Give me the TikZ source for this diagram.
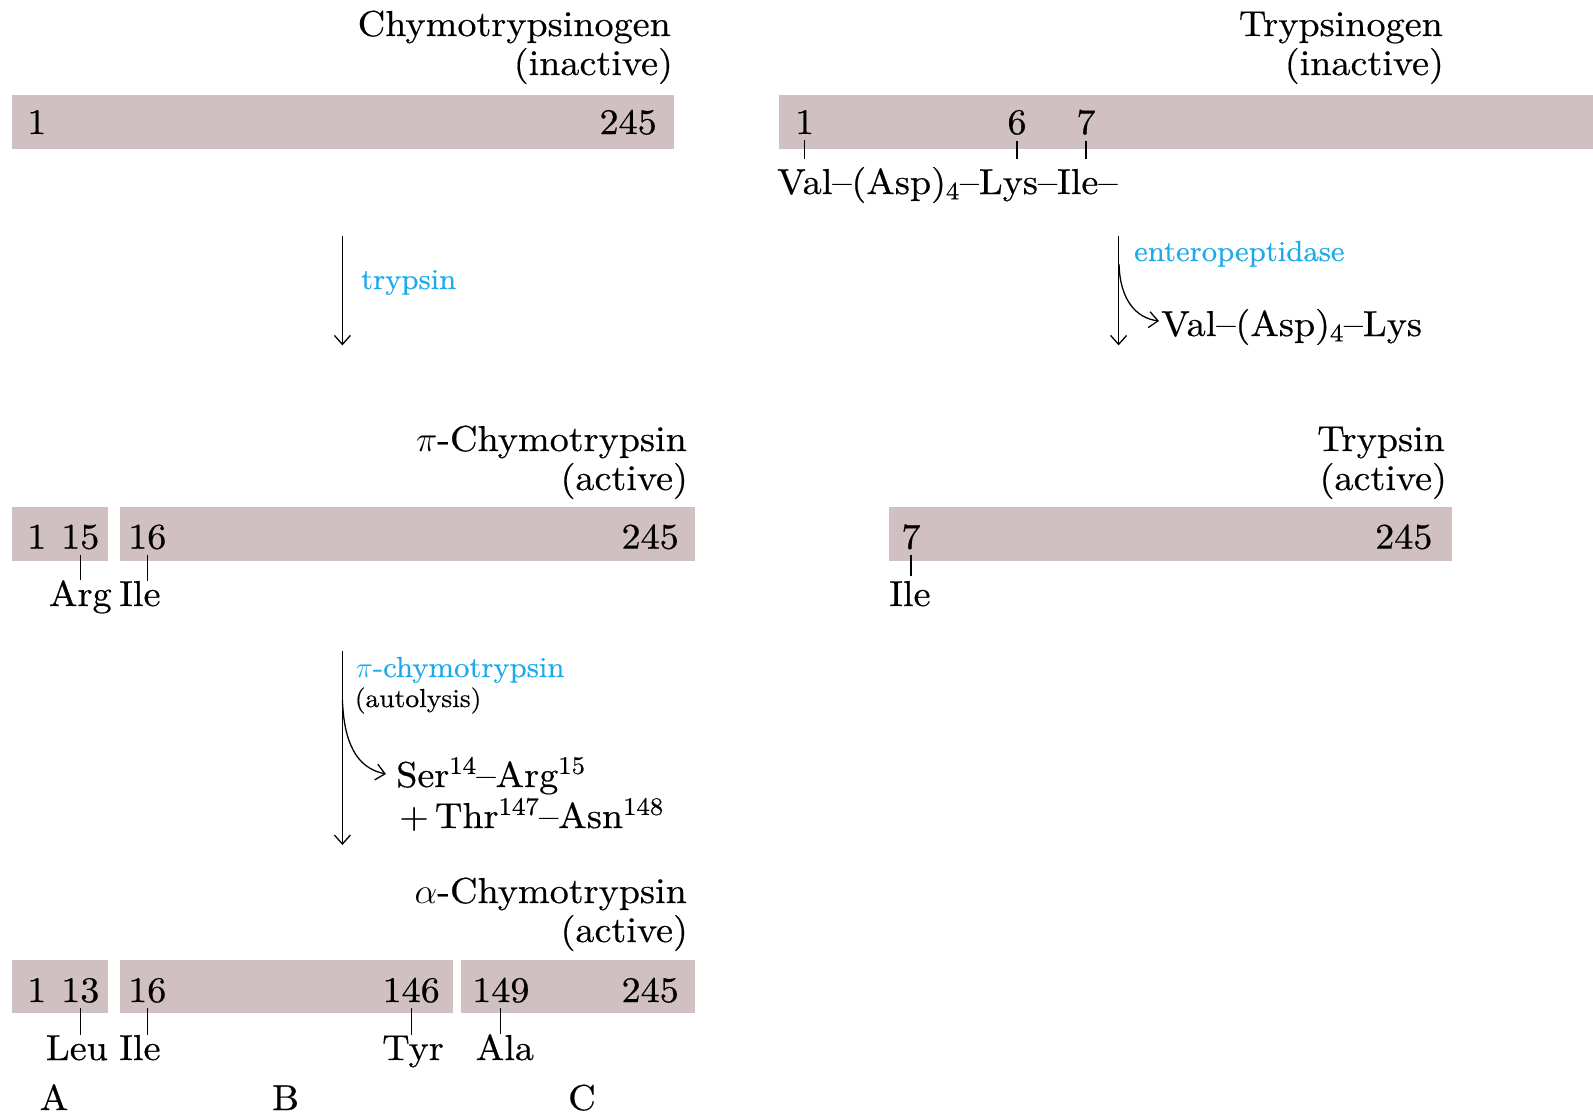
\RequirePackage{fix-cm}
\documentclass[tikz,border=0pt]{standalone}
\usepackage{fontspec}
\setmainfont{lmroman10-regular.otf}[FakeStretch=1.06, FakeBold=0.5]
\usetikzlibrary{arrows.meta}
\definecolor{barfill}{RGB}{208,192,194}
\definecolor{enzblue}{RGB}{28,170,236}
\begin{document}
\begin{tikzpicture}[x=1pt,y=-1pt,
  bar/.style={fill=barfill, draw=none, inner sep=0pt, outer sep=0pt, anchor=north west},
  big/.style={inner sep=0pt, font=\fontsize{36}{38}\selectfont},
  enz/.style={inner sep=0pt, text=enzblue, font=\fontsize{29}{31}\selectfont},
  small/.style={inner sep=0pt, font=\fontsize{26}{28}\selectfont},
  tick/.style={line width=1.3pt},
  rxn/.style={line width=1.3pt, -{Straight Barb[length=9pt,width=16pt,line width=1.3pt]}},
]
\useasboundingbox (0,0) rectangle (1593,1116);

% ---------- Chymotrypsinogen ----------
\node[big, anchor=base east] (t1) at (671,36) {Chymotrypsinogen};
\node[big, anchor=base east] (t1b) at (673,75) {(inactive)};
\node[bar, minimum width=662pt, minimum height=54pt] (b1) at (12,94.5) {};
\node[big, anchor=base west] (c1n1) at (27,134) {1};
\node[big, anchor=base east] (c1n245) at (657,134) {245};

\coordinate (a1s) at (342.4,235.7);
\coordinate (a1e) at (342.4,345.4);
\draw[rxn] (a1s) -- (a1e);
\node[enz, anchor=base west] (enz1) at (361,289) {trypsin};

% ---------- pi-Chymotrypsin ----------
\node[big, anchor=base east] (t2) at (687,451) {$\pi$-Chymotrypsin};
\node[big, anchor=base east] (t2b) at (688,490) {(active)};
\node[bar, minimum width=95.7pt, minimum height=54pt] (b2a) at (12,507) {};
\node[bar, minimum width=575pt, minimum height=54pt] (b2b) at (120,507) {};
\node[big, anchor=base west] (p1) at (27,548.6) {1};
\node[big, anchor=base west] (p15) at (61,548.6) {15};
\node[big, anchor=base west] (p16) at (128,548.6) {16};
\node[big, anchor=base east] (p245) at (679,548.6) {245};
\node[big, anchor=base west] (parg) at (48.8,606) {Arg};
\node[big, anchor=base west] (pile) at (119,606) {Ile};
\draw[tick] ([yshift=-5pt]p15.south) -- (p15.south |- parg.north);
\draw[tick] ([yshift=-5pt]p16.south) -- (p16.south |- pile.north);

\coordinate (a2s) at (342.4,651);
\coordinate (a2e) at (342.4,845);
\draw[rxn] (a2s) -- (a2e);
\node[enz, anchor=base west] (enz2) at (355.6,677) {$\pi$-chymotrypsin};
\node[small, anchor=base west] (auto) at (354.6,707) {(autolysis)};
\coordinate (c2s) at (342.4,700);
\node[big, anchor=base west] (ser) at (396,787) {Ser\textsuperscript{14}--Arg\textsuperscript{15}};
\node[big, anchor=base west] (thr) at (399,828) {+\,Thr\textsuperscript{147}--Asn\textsuperscript{148}};
\coordinate (c2e) at (386,774);
\draw[rxn] (c2s) .. controls (344,742) and (356,768) .. (c2e);

% ---------- alpha-Chymotrypsin ----------
\node[big, anchor=base east] (t3) at (687,903) {$\alpha$-Chymotrypsin};
\node[big, anchor=base east] (t3b) at (688,942) {(active)};
\node[bar, minimum width=95.7pt, minimum height=53pt] (b3a) at (12,960) {};
\node[bar, minimum width=333pt, minimum height=53pt] (b3b) at (120,960) {};
\node[bar, minimum width=234pt, minimum height=53pt] (b3c) at (461,960) {};
\node[big, anchor=base west] (q1) at (27,1002) {1};
\node[big, anchor=base west] (q13) at (61,1002) {13};
\node[big, anchor=base west] (q16) at (128,1002) {16};
\node[big, anchor=base east] (q146) at (440,1002) {146};
\node[big, anchor=base west] (q149) at (472,1002) {149};
\node[big, anchor=base east] (q245) at (679,1002) {245};
\node[big, anchor=base west] (qleu) at (45.7,1060) {Leu};
\node[big, anchor=base west] (qile) at (119,1060) {Ile};
\node[big, anchor=base west] (qtyr) at (382,1060) {Tyr};
\node[big, anchor=base west] (qala) at (475.5,1060) {Ala};
\draw[tick] ([yshift=-5pt]q13.south) -- (q13.south |- qleu.north);
\draw[tick] ([yshift=-5pt]q16.south) -- (q16.south |- qile.north);
\draw[tick] ([yshift=-5pt]q146.south) -- (q146.south |- qtyr.north);
\draw[tick] ([yshift=-5pt]q149.south) -- (q149.south |- qala.north);
\node[big, anchor=base] (chA) at (54,1110) {A};
\node[big, anchor=base] (chB) at (285.5,1110) {B};
\node[big, anchor=base] (chC) at (582,1110) {C};

% ---------- Trypsinogen ----------
\node[big, anchor=base east] (r1) at (1443,36) {Trypsinogen};
\node[big, anchor=base east] (r1b) at (1444,75) {(inactive)};
\node[bar, minimum width=814pt, minimum height=54pt] (rb1) at (779,94.5) {};
\node[big, anchor=base] (r1n1) at (804.7,134) {1};
\node[big, anchor=base] (r1n6) at (1017,134) {6};
\node[big, anchor=base] (r1n7) at (1086,134) {7};
\node[big, anchor=base west] (rseq) at (777,194) {Val--(Asp)\textsubscript{4}--Lys--Ile--};
\draw[tick] ([yshift=-6pt]r1n1.south) -- ++(0,18.5);
\draw[tick] ([yshift=-6pt]r1n6.south) -- ++(0,18.5);
\draw[tick] ([yshift=-6pt]r1n7.south) -- ++(0,18.5);

\coordinate (a3s) at (1118.6,235.7);
\coordinate (a3e) at (1118.6,345.4);
\draw[rxn] (a3s) -- (a3e);
\node[enz, anchor=base west] (enz3) at (1134,261) {enteropeptidase};
\node[big, anchor=base west] (rfrag) at (1161,336) {Val--(Asp)\textsubscript{4}--Lys};
\coordinate (c3s) at (1119,264);
\coordinate (c3e) at (1159,321);
\draw[rxn] (c3s) .. controls (1120,300) and (1136,318) .. (c3e);

% ---------- Trypsin ----------
\node[big, anchor=base east] (r2) at (1445,451) {Trypsin};
\node[big, anchor=base east] (r2b) at (1447,490) {(active)};
\node[bar, minimum width=563pt, minimum height=54pt] (rb2) at (889,507) {};
\node[big, anchor=base] (r2n7) at (911,548.6) {7};
\node[big, anchor=base east] (r2n245) at (1432.6,548.6) {245};
\node[big, anchor=base west] (rile) at (889,606) {Ile};
\draw[tick] ([yshift=-5pt]r2n7.south) -- ++(0,21);
\end{tikzpicture}
\end{document}
